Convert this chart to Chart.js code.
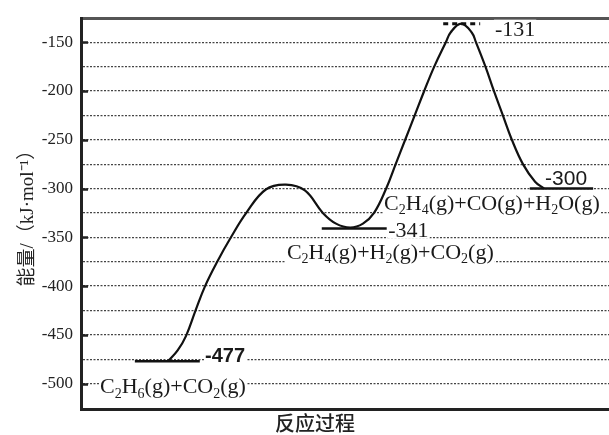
<!DOCTYPE html>
<html>
<head>
<meta charset="utf-8">
<script src="https://cdn.jsdelivr.net/npm/chart.js@4.4.0/dist/chart.umd.min.js"></script>
<style>
  html, body { margin: 0; padding: 0; background: #fff; }
  canvas { display: block; }
</style>
</head>
<body>
<canvas id="energy-chart" width="609" height="435"></canvas>
<script>
// reaction coordinate runs 0..100 across the plot, energy in kJ/mol
const curveX = [16.5, 18.3, 19.9, 21.7, 23.5, 25.8, 28.4, 31.3, 35.0, 38.8, 42.4, 45.8, 48.3, 51.0, 53.4,
                55.5, 57.8, 59.6, 61.4, 63.2, 65.0, 66.9, 69.1, 70.0, 72.0, 74.0, 74.8, 76.6, 78.2, 79.9,
                81.6, 83.7, 86.0, 87.7];
const curveY = [-477, -466, -451, -425, -400, -375, -350, -325, -301, -296, -302, -325, -336, -340, -336,
                -325, -300, -275, -250, -225, -200, -175, -150, -140, -131, -140, -150, -175, -200, -225,
                -250, -275, -293, -300];

// flat energy levels (start, middle, end) and the transition state
const levelX = [[10.2, 22.5], [45.6, 57.9], [85.0, 97.0]];
const levelY = [-477, -341, -300];
const levelText = ['-477', '-341', '-300'];
const tsX = [68.6, 75.6];
const tsY = -131;
const tsText = '-131';

const speciesText = ['C_2H_6(g)+CO_2(g)', 'C_2H_4(g)+H_2(g)+CO_2(g)', 'C_2H_4(g)+CO(g)+H_2O(g)'];

const gridValues = [-150, -175, -200, -225, -250, -275, -300, -325, -350, -375, -400, -425, -450, -475, -500];
const tickLabels = ['-150', '-200', '-250', '-300', '-350', '-400', '-450', '-500'];

const yTitle = '能量/（kJ·mol⁻¹）';
const xTitle = '反应过程';

const SERIF = '"Liberation Serif", "Times New Roman", serif';
const SANS = '"Liberation Sans", Arial, sans-serif';

// draw a formula where "_" marks the next char as subscript
function drawChem(ctx, str, x, y, size, bg) {
    const sub = Math.round(size * 0.62);
    const runs = [];
    for (let i = 0; i < str.length; i++) {
        if (str[i] === '_') { runs.push({ c: str[i + 1], s: true }); i++; }
        else runs.push({ c: str[i], s: false });
    }
    let w = 0;
    runs.forEach(r => {
        ctx.font = (r.s ? sub : size) + 'px ' + SERIF;
        r.w = ctx.measureText(r.c).width;
        w += r.w;
    });
    if (bg) {
        ctx.fillStyle = '#fff';
        ctx.fillRect(x - 1, y - size * 0.75, w + 2, size * 1.0);
    }
    ctx.fillStyle = '#1a1a1a';
    ctx.textBaseline = 'alphabetic';
    ctx.textAlign = 'left';
    let cx = x;
    runs.forEach(r => {
        ctx.font = (r.s ? sub : size) + 'px ' + SERIF;
        ctx.fillText(r.c, cx, r.s ? y + size * 0.2 : y);
        cx += r.w;
    });
}

function drawLabel(ctx, text, x, y, font) {
    ctx.font = font;
    ctx.textAlign = 'left';
    ctx.textBaseline = 'alphabetic';
    const w = ctx.measureText(text).width;
    ctx.fillStyle = '#fff';
    ctx.fillRect(x - 1, y - 16, w + 2, 18);
    ctx.fillStyle = '#1a1a1a';
    ctx.fillText(text, x, y);
}

// species labels sit under the curve, value labels and inner ticks on top
const annotations = {
    id: 'annotations',
    beforeDatasetsDraw(chart) {
        const ctx = chart.ctx;
        const x = chart.scales.x, y = chart.scales.y;
        ctx.save();
        drawChem(ctx, speciesText[0], x.getPixelForValue(3.6), y.getPixelForValue(levelY[0]) + 32, 22, true);
        drawChem(ctx, speciesText[1], x.getPixelForValue(39.0), y.getPixelForValue(levelY[1]) + 30, 22, true);
        drawChem(ctx, speciesText[2], x.getPixelForValue(57.4), y.getPixelForValue(levelY[2]) + 21, 22, true);
        ctx.restore();
    },
    afterDatasetsDraw(chart) {
        const ctx = chart.ctx;
        const x = chart.scales.x, y = chart.scales.y;
        const area = chart.chartArea;
        ctx.save();
        drawLabel(ctx, levelText[0], x.getPixelForValue(23.5), y.getPixelForValue(levelY[0]) + 1, 'bold 20px ' + SANS);
        drawLabel(ctx, levelText[1], x.getPixelForValue(58.2), y.getPixelForValue(levelY[1]) + 8, '22px ' + SERIF);
        drawLabel(ctx, levelText[2], x.getPixelForValue(87.9), y.getPixelForValue(levelY[2]) - 4, '21px ' + SANS);
        drawLabel(ctx, tsText, x.getPixelForValue(78.4), y.getPixelForValue(tsY) + 12, '22px ' + SERIF);

        // short tick marks pointing into the plot
        ctx.strokeStyle = '#222';
        ctx.lineWidth = 2.5;
        tickLabels.forEach(t => {
            const py = Math.round(y.getPixelForValue(Number(t))) + 0.5;
            ctx.beginPath();
            ctx.moveTo(area.left, py);
            ctx.lineTo(area.left + 7, py);
            ctx.stroke();
        });

        ctx.font = '500 20px "Noto Sans CJK SC", sans-serif';
        ctx.fillStyle = '#222';
        ctx.textAlign = 'center';
        ctx.textBaseline = 'middle';
        ctx.fillText(xTitle, 315, 423);
        ctx.restore();
    }
};

const lineStyle = {
    borderColor: '#111',
    borderWidth: 2.5,
    pointRadius: 0,
    fill: false
};

const datasets = [{
    label: 'energy',
    data: curveX.map((v, i) => ({ x: v, y: curveY[i] })),
    tension: 0.4,
    ...lineStyle,
    borderWidth: 2.2
}];
levelX.forEach((xs, i) => {
    datasets.push({
        label: levelText[i],
        data: xs.map(v => ({ x: v, y: levelY[i] })),
        ...lineStyle
    });
});
datasets.push({
    label: tsText,
    data: tsX.map(v => ({ x: v, y: tsY })),
    ...lineStyle,
    borderWidth: 3,
    borderDash: [5, 4]
});

const ctxEnergy = document.getElementById('energy-chart').getContext('2d');

const energyChart = new Chart(ctxEnergy, {
    type: 'line',
    data: { datasets: datasets },
    options: {
        responsive: false,
        animation: false,
        devicePixelRatio: 1,
        layout: { padding: 0 },
        plugins: {
            legend: { display: false },
            tooltip: { enabled: false }
        },
        scales: {
            x: {
                type: 'linear',
                min: 0,
                max: 100,
                ticks: { display: false },
                grid: { drawOnChartArea: false, drawTicks: false },
                border: { color: '#222', width: 3 },
                afterFit: (scale) => { scale.height = 26; }
            },
            x2: {
                type: 'linear',
                position: 'top',
                min: 0,
                max: 100,
                ticks: { display: false },
                grid: { drawOnChartArea: false, drawTicks: false },
                border: { color: '#555', width: 3 },
                afterFit: (scale) => { scale.height = 14; }
            },
            y: {
                type: 'linear',
                min: -526,
                max: -125.4,
                afterBuildTicks: (scale) => { scale.ticks = gridValues.map(v => ({ value: v })); },
                ticks: {
                    padding: 8,
                    color: '#222',
                    font: { family: SERIF, size: 17 },
                    callback: (value) => tickLabels.includes(String(value)) ? String(value) : ''
                },
                grid: { color: '#444', lineWidth: 1.2, drawTicks: false },
                border: { color: '#222', width: 3, dash: [2, 1.5] },
                title: {
                    display: true,
                    text: yTitle,
                    color: '#222',
                    font: { family: SERIF + ', "Noto Sans CJK SC"', size: 19 },
                    padding: { top: 17, bottom: 0 }
                },
                afterFit: (scale) => { scale.width = 81; }
            }
        }
    },
    plugins: [annotations]
});
</script>
</body>
</html>
